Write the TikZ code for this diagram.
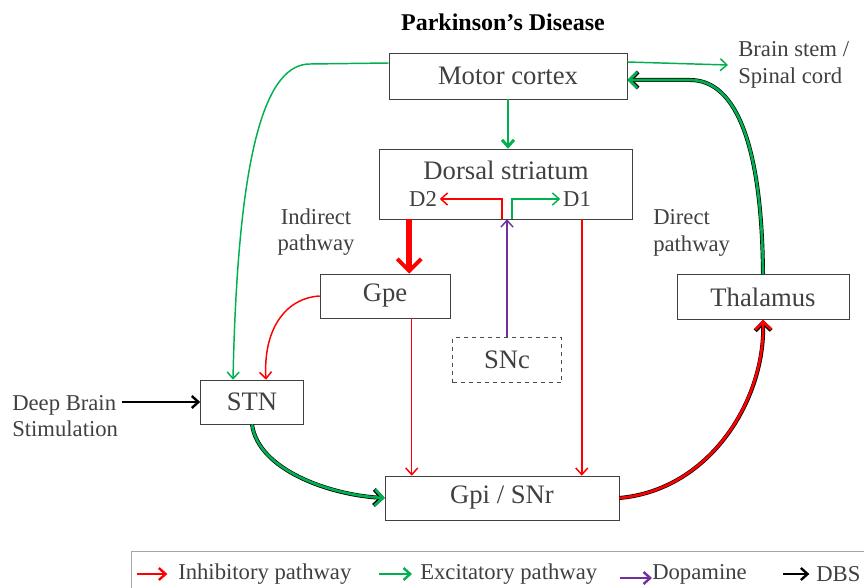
\documentclass[tikz,border=0pt]{standalone}
\usepackage{fontspec}
\setmainfont{Liberation Serif}
\usetikzlibrary{arrows.meta}
\definecolor{inhRed}{HTML}{FF0000}
\definecolor{excGreen}{HTML}{00B050}
\definecolor{dopPurple}{HTML}{7030A0}
\definecolor{txtGray}{HTML}{404040}
\tikzset{
  region/.style={draw=black!75, fill=white, text=txtGray, inner sep=0pt,
    font=\fontsize{20}{24}\selectfont},
  note/.style={text=txtGray, font=\fontsize{17}{20}\selectfont, align=left, inner sep=0pt},
  inh/.style={->, inhRed, line width=1.1pt},
  exc/.style={->, excGreen, line width=1.1pt},
  dopa/.style={->, dopPurple, line width=1.1pt},
  dbsarrow/.style={->, black, line width=1.8pt},
  edged/.style={->, line width=2pt, >={Straight Barb[length=6pt,width=12pt]},
    preaction={draw=black, line width=3pt}},
}
\begin{document}
\begin{tikzpicture}[x=0.75pt, y=-0.75pt, >={Straight Barb[length=5pt,width=9pt]}]
\useasboundingbox (0,0) rectangle (864,588);
% ---------- title ----------
\node[font=\fontsize{18}{22}\selectfont\bfseries] (title) at (503,22) {Parkinson’s Disease};
% ---------- the regions ----------
\node[region, minimum width=178.5pt, minimum height=34.5pt] (motor) at (508,76) {Motor cortex};
\node[region, minimum width=189.75pt, minimum height=52.5pt] (ds) at (506,184) {};
\node[text=txtGray, font=\fontsize{20}{24}\selectfont, inner sep=0pt] (dsname) at (506,170) {Dorsal striatum};
\node[note, inner sep=2pt] (dtwo) at (423,199) {D2};
\node[note, inner sep=2pt] (done) at (577,199) {D1};
\node[region, minimum width=97.5pt, minimum height=33pt] (gpe) at (385,296) {Gpe};
\node[region, draw=black!70, dashed, minimum width=81.75pt, minimum height=33.75pt] (snc) at (507,360) {SNc};
\node[region, minimum width=77.25pt, minimum height=33pt] (stn) at (252,402) {STN};
\node[region, minimum width=175.5pt, minimum height=33pt] (gpi) at (502,498) {Gpi / SNr};
\node[region, minimum width=129pt, minimum height=33.75pt] (thal) at (763,297) {Thalamus};
% ---------- side notes ----------
\node[note, anchor=west] (brain) at (738,65) {Brain stem /\\Spinal cord};
\node[note, align=center] (indirect) at (316,232) {Indirect\\pathway};
\node[note, anchor=west] (direct) at (653,233) {Direct\\pathway};
\node[note, anchor=west] (dbs) at (12,416) {Deep Brain\\Stimulation};
% ---------- excitatory ----------
\draw[exc] ([yshift=10.5pt]motor.east) -- ([xshift=-7.5pt]brain.west);
\draw[exc, line width=2.2pt] (motor.south) -- (motor.south |- ds.north);
\draw[exc] ([yshift=9.75pt]motor.west) -- (310,64)
  .. controls (268,64) and (238,140) .. ([xshift=-14.25pt]stn.north);
\draw[edged, excGreen] (thal.north) .. controls (762,150) and (738,80) .. (690,80)
  -- ([yshift=-3pt]motor.east);
\draw[edged, excGreen] (stn.south) .. controls (258,470) and (330,495) .. (gpi.west);
% ---------- inside the striatum ----------
\draw[inh] ([xshift=-3pt]ds.south) |- (dtwo.east);
\draw[exc] ([xshift=4.5pt]ds.south) |- (done.west);
\draw[dopa] (snc.north) -- (snc.north |- ds.south);
% ---------- inhibitory ----------
\draw[->, inhRed, line width=4.5pt, >={Straight Barb[length=9pt,width=18pt,line width=3pt]}]
  ([xshift=22.5pt]ds.south west) -- ([xshift=22.5pt]ds.south west |- gpe.north);
\draw[inh] ([xshift=-38.25pt]ds.south east) -- ([xshift=-38.25pt]ds.south east |- gpi.north);
\draw[inh] ([xshift=69pt]gpe.south west) -- ([xshift=69pt]gpe.south west |- gpi.north);
\draw[inh] (gpe.west) .. controls (285,298) and (263,330) .. ([xshift=10.5pt]stn.north);
\draw[edged, inhRed] (gpi.east) .. controls (710,490) and (765,400) .. (thal.south);
% ---------- stimulation ----------
\draw[dbsarrow] ([xshift=3pt]dbs.east |- stn.west) -- (stn.west);
% ---------- legend ----------
\draw[black!35] (131,590) |- (870,551);
\node[note, anchor=west] (leginh) at (178,574) {Inhibitory pathway};
\node[note, anchor=west] (legexc) at (420,574) {Excitatory pathway};
\node[note, anchor=west] (legdop) at (652,574) {Dopamine};
\node[note, anchor=west] (legdbs) at (816,574) {DBS};
\draw[inh, line width=1.8pt] ([xshift=-31pt]leginh.west) -- ([xshift=-8pt]leginh.west);
\draw[exc, line width=1.8pt] ([xshift=-31pt]legexc.west) -- ([xshift=-6pt]legexc.west);
\draw[dopa, line width=1.8pt] ([xshift=-24pt,yshift=-3pt]legdop.west) -- ([yshift=-3pt]legdop.west);
\draw[dbsarrow] ([xshift=-25pt]legdbs.west) -- ([xshift=-5pt]legdbs.west);
\end{tikzpicture}
\end{document}
